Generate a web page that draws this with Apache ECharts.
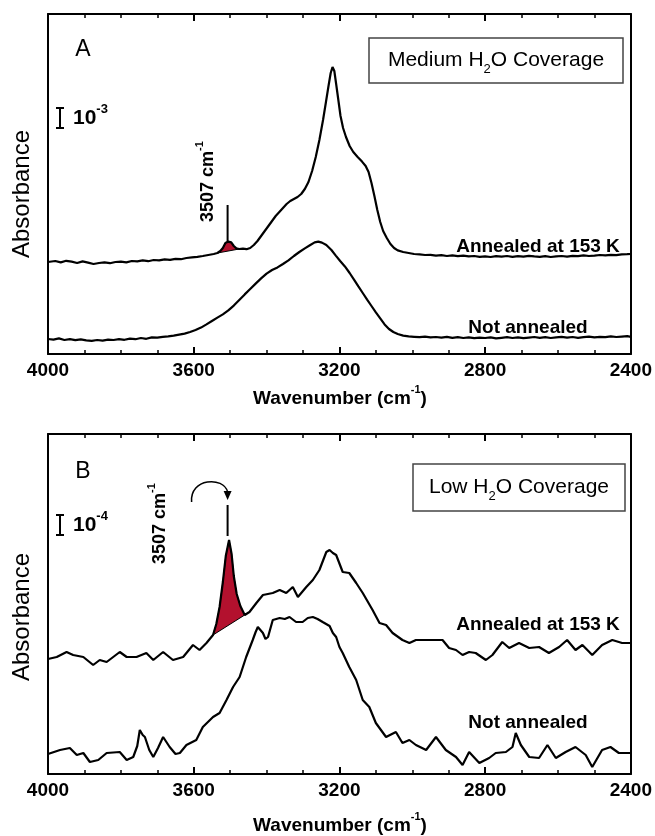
<!DOCTYPE html>
<html><head><meta charset="utf-8">
<script src="https://cdn.jsdelivr.net/npm/echarts@6/dist/echarts.min.js"></script>
<style>html,body{margin:0;padding:0;background:#fff}#c{width:655px;height:836px}</style>
</head><body><div id="c"></div>
<script>
// ---------- tick labels (cm-1) ----------
const xTickLabels = [4000, 3600, 3200, 2800, 2400];

// ---------- Panel A (medium coverage), absorbance in units of 1e-3, offset ----------
const aAnnWn = [4000,3980,3965,3950,3935,3920,3905,3890,3875,3860,3845,3830,3815,3800,3785,3770,3755,3740,3725,3710,3695,3680,3665,3650,3635,3620,3605,3590,3575,3560,3545,3535,3527,3520,3513,3505,3497,3490,3483,3475,3465,3455,3445,3435,3425,3415,3405,3395,3385,3375,3365,3355,3345,3335,3325,3315,3305,3295,3285,3275,3265,3255,3245,3237,3230,3224,3219,3214,3209,3203,3197,3190,3182,3172,3162,3150,3138,3128,3120,3112,3104,3096,3088,3080,3070,3060,3050,3040,3025,3010,2995,2980,2965,2950,2935,2920,2905,2890,2875,2860,2845,2830,2815,2800,2785,2770,2755,2740,2725,2710,2695,2680,2665,2650,2635,2620,2605,2590,2575,2560,2545,2530,2515,2500,2485,2470,2455,2440,2425,2410,2400];
const aAnnAbs = [4.60,4.65,4.58,4.66,4.62,4.55,4.63,4.57,4.50,4.55,4.58,4.54,4.60,4.62,4.58,4.65,4.63,4.68,4.64,4.70,4.68,4.73,4.71,4.76,4.74,4.80,4.83,4.86,4.90,4.95,5.00,5.05,5.15,5.30,5.55,5.62,5.58,5.40,5.28,5.25,5.27,5.24,5.30,5.45,5.65,5.90,6.15,6.40,6.65,6.90,7.10,7.30,7.50,7.65,7.75,7.85,8.00,8.25,8.60,9.15,9.85,10.70,11.70,12.60,13.40,14.05,14.35,14.15,13.50,12.70,11.90,11.30,10.85,10.40,10.10,9.85,9.62,9.40,9.10,8.55,7.90,7.20,6.60,6.15,5.80,5.50,5.30,5.18,5.10,5.05,5.00,4.98,4.95,4.96,4.92,4.94,4.90,4.93,4.89,4.92,4.88,4.90,4.86,4.88,4.85,4.89,4.87,4.90,4.86,4.89,4.87,4.91,4.88,4.86,4.89,4.85,4.88,4.90,4.87,4.91,4.89,4.93,4.90,4.92,4.95,4.93,4.96,4.94,4.98,4.99,5.00];

const aNotWn = [4000,3985,3970,3955,3940,3925,3910,3895,3880,3865,3850,3835,3820,3805,3790,3775,3760,3745,3730,3715,3700,3685,3670,3655,3640,3625,3610,3595,3580,3565,3550,3535,3520,3505,3490,3475,3460,3445,3430,3415,3400,3385,3370,3355,3340,3325,3310,3295,3280,3268,3258,3248,3236,3222,3210,3198,3185,3172,3160,3148,3136,3124,3112,3100,3088,3076,3064,3052,3040,3025,3010,2995,2980,2965,2950,2935,2920,2905,2890,2875,2860,2845,2830,2815,2800,2785,2770,2755,2740,2725,2710,2695,2680,2665,2650,2635,2620,2605,2590,2575,2560,2545,2530,2515,2500,2485,2470,2455,2440,2425,2410,2400];
const aNotAbs = [0.75,0.72,0.78,0.70,0.74,0.69,0.73,0.68,0.66,0.70,0.67,0.72,0.70,0.74,0.71,0.77,0.74,0.80,0.76,0.83,0.82,0.86,0.88,0.92,0.97,1.02,1.10,1.20,1.32,1.48,1.65,1.82,1.98,2.18,2.42,2.70,2.98,3.25,3.52,3.78,4.02,4.20,4.33,4.50,4.68,4.90,5.10,5.28,5.45,5.58,5.62,5.57,5.45,5.20,4.92,4.65,4.38,4.05,3.72,3.38,3.05,2.72,2.40,2.08,1.78,1.48,1.25,1.10,1.00,0.92,0.88,0.86,0.84,0.87,0.83,0.85,0.82,0.86,0.81,0.84,0.80,0.83,0.79,0.82,0.80,0.83,0.78,0.81,0.84,0.80,0.83,0.79,0.82,0.85,0.81,0.84,0.80,0.83,0.86,0.82,0.85,0.81,0.84,0.87,0.83,0.86,0.84,0.88,0.85,0.87,0.89,0.86];

// ---------- Panel B (low coverage), absorbance in units of 1e-4, offset ----------
const bAnnWn = [4000,3995,3976,3949,3931,3903,3876,3858,3839,3803,3784,3757,3730,3711,3684,3657,3629,3602,3584,3565,3547,3538,3529,3520,3512,3503,3496,3490,3482,3472,3460,3447,3428,3410,3383,3364,3346,3328,3314,3291,3273,3255,3236,3227,3218,3209,3191,3173,3154,3136,3109,3090,3072,3054,3027,3008,2990,2953,2917,2899,2880,2862,2844,2826,2798,2780,2753,2734,2707,2679,2652,2625,2597,2575,2552,2533,2506,2479,2451,2424,2400];
const bAnnAbs = [5.75,5.80,5.85,6.10,5.95,5.85,5.45,5.70,5.60,6.10,5.85,5.85,6.05,5.70,6.10,5.70,5.85,6.45,6.20,6.55,6.95,7.50,8.35,9.60,10.90,11.70,11.00,9.90,9.00,8.40,7.95,8.10,8.55,8.95,9.05,9.20,9.05,9.35,8.85,9.35,9.70,10.20,11.10,11.20,11.05,10.95,10.10,10.05,9.55,9.05,8.20,7.55,7.45,7.05,6.70,6.55,6.70,6.70,6.70,6.30,6.20,5.95,6.10,6.05,5.70,5.95,6.60,6.30,6.55,6.30,6.35,6.05,6.35,6.70,6.20,6.45,5.95,6.45,6.70,6.55,6.55];

const bNotWn = [4000,3995,3967,3940,3921,3903,3885,3862,3839,3803,3784,3766,3755,3748,3740,3734,3722,3711,3698,3684,3666,3650,3638,3620,3593,3575,3547,3529,3510,3492,3474,3456,3438,3430,3424,3417,3410,3403,3396,3383,3364,3350,3337,3319,3301,3287,3273,3260,3246,3227,3218,3209,3200,3191,3173,3154,3136,3118,3100,3072,3045,3027,3008,2990,2962,2935,2908,2880,2862,2844,2816,2789,2771,2743,2725,2716,2702,2679,2652,2629,2606,2579,2552,2524,2506,2479,2456,2433,2405,2400];
const bNotAbs = [1.00,1.05,1.20,1.30,0.95,1.05,0.60,0.70,1.05,1.10,0.70,0.85,1.40,2.20,1.95,1.85,1.20,0.85,1.30,1.85,1.35,1.00,1.05,1.45,1.70,2.35,2.85,3.05,3.70,4.35,4.85,5.85,6.70,7.10,7.35,7.20,7.05,6.75,6.85,7.70,7.80,7.75,7.85,7.60,7.60,7.80,7.85,7.75,7.60,7.40,7.05,6.85,6.35,6.05,5.35,4.70,3.70,3.35,2.55,1.85,2.10,1.55,1.70,1.45,1.20,1.85,1.20,0.85,0.45,1.10,0.55,0.80,1.05,1.10,1.35,2.05,1.45,0.85,0.80,1.45,0.80,1.10,1.35,0.95,0.35,1.20,1.35,1.05,1.05,1.05];

// shaded 3507 cm-1 band limits
const aBand = [3475, 3535];
const bBand = [3460, 3547];
// marker at 3507 cm-1: [wavenumber, from, to]
const aMarker = [3507, 5.62, 7.45];
const bMarker = [3507, 11.9, 13.45];
const bArrowTip = [3507, 13.7];
// scale bars: [wavenumber, from, to]  (one unit tall: 1e-3 in A, 1e-4 in B)
const aScale = [3967, 11.3, 12.3];
const bScale = [3967, 11.95, 12.95];

const FONT = "'Liberation Sans', Arial, Helvetica, sans-serif";
const RED = '#b3112e';

function zip(x, y) { return x.map((v, i) => [v, y[i]]); }

function xAxes(grid) {
  const common = {
    gridIndex: grid, type: 'value', min: 2400, max: 4000, interval: 400, inverse: true,
    axisLine: { show: true, onZero: false, lineStyle: { color: '#000', width: 2 } },
    axisTick: { show: true, inside: true, length: 7, lineStyle: { color: '#000', width: 2 } },
    minorTick: { show: true, splitNumber: 4, length: 4, lineStyle: { color: '#000', width: 1.5 } },
    splitLine: { show: false }, minorSplitLine: { show: false }
  };
  return [
    Object.assign({}, common, { position: 'bottom',
      axisLabel: { show: true, margin: 7, fontSize: 19, fontWeight: 'bold', color: '#000', fontFamily: FONT,
        formatter: v => (xTickLabels.indexOf(v) >= 0 ? String(v) : '') } }),
    Object.assign({}, common, { position: 'top', axisLabel: { show: false } })
  ];
}
function yAxes(grid) {
  const common = { gridIndex: grid, type: 'value', min: 0, max: 17,
    axisLine: { show: true, onZero: false, lineStyle: { color: '#000', width: 2 } },
    axisTick: { show: false }, axisLabel: { show: false }, splitLine: { show: false } };
  return [Object.assign({}, common, { position: 'left' }), Object.assign({}, common, { position: 'right' })];
}

function lineSeries(xi, yi, wn, ab) {
  return { type: 'line', xAxisIndex: xi, yAxisIndex: yi, data: zip(wn, ab), showSymbol: false, symbol: 'none',
    lineStyle: { color: '#000', width: 2.2 }, silent: true, z: 3 };
}
function fillSeries(xi, yi, wn, ab, band) {
  return { type: 'custom', xAxisIndex: xi, yAxisIndex: yi, data: [[band[0], 0]], silent: true, z: 2,
    renderItem: function (params, api) {
      const pts = [];
      for (let i = 0; i < wn.length; i++) if (wn[i] >= band[0] && wn[i] <= band[1]) pts.push(api.coord([wn[i], ab[i]]));
      return { type: 'polygon', shape: { points: pts }, style: { fill: RED, stroke: '#000', lineWidth: 1 } };
    } };
}
function markSeries(xi, yi, marker, scale, arrowTip) {
  return { type: 'custom', xAxisIndex: xi, yAxisIndex: yi, data: [[marker[0], marker[1]]], silent: true, z: 4,
    renderItem: function (params, api) {
      const m0 = api.coord([marker[0], marker[1]]), m1 = api.coord([marker[0], marker[2]]);
      const s0 = api.coord([scale[0], scale[1]]), s1 = api.coord([scale[0], scale[2]]);
      const st = { stroke: '#000', lineWidth: 2 };
      const ch = [
        { type: 'line', shape: { x1: m0[0], y1: m0[1], x2: m1[0], y2: m1[1] }, style: st },
        { type: 'line', shape: { x1: s0[0], y1: s0[1], x2: s1[0], y2: s1[1] }, style: st },
        { type: 'line', shape: { x1: s0[0] - 4, y1: s0[1], x2: s0[0] + 4, y2: s0[1] }, style: st },
        { type: 'line', shape: { x1: s1[0] - 4, y1: s1[1], x2: s1[0] + 4, y2: s1[1] }, style: st }
      ];
      if (arrowTip) {
        const t = api.coord(arrowTip);
        ch.push({ type: 'bezierCurve', shape: { x1: t[0] - 36, y1: t[1] + 2, cpx1: t[0] - 38, cpy1: t[1] - 22,
          cpx2: t[0] - 4, cpy2: t[1] - 24, x2: t[0], y2: t[1] - 8 }, style: { stroke: '#000', lineWidth: 1.5, fill: null } });
        ch.push({ type: 'polygon', shape: { points: [[t[0], t[1]], [t[0] - 4, t[1] - 9], [t[0] + 4, t[1] - 9]] },
          style: { fill: '#000' } });
      }
      return { type: 'group', children: ch };
    } };
}

function txt(x, y, text, size, weight, extra) {
  return Object.assign({ type: 'text', x: x, y: y, silent: true,
    style: { text: text, fontSize: size, fontWeight: weight || 'normal', fontFamily: FONT, fill: '#000',
      align: 'center', verticalAlign: 'middle' } }, extra || {});
}
function richTxt(x, y, text, rich, align, extra) {
  return Object.assign({ type: 'text', x: x, y: y, silent: true,
    style: { text: text, rich: rich, fontFamily: FONT, fill: '#000', align: align || 'center', verticalAlign: 'middle' } }, extra || {});
}
const supRichBold = {
  m: { fontSize: 19, fontWeight: 'bold', fontFamily: FONT, lineHeight: 29, verticalAlign: 'middle' },
  s: { fontSize: 11, fontWeight: 'bold', fontFamily: FONT, verticalAlign: 'top' }
};
const rotRichBold = {
  m: { fontSize: 18, fontWeight: 'bold', fontFamily: FONT, lineHeight: 28, verticalAlign: 'middle' },
  s: { fontSize: 11, fontWeight: 'bold', fontFamily: FONT, verticalAlign: 'top' }
};
const subRich = {
  a: { fontSize: 21, fontFamily: FONT, lineHeight: 32, verticalAlign: 'middle' },
  b: { fontSize: 13, fontFamily: FONT, verticalAlign: 'bottom' }
};
const scaleRich = {
  m: { fontSize: 21, fontWeight: 'bold', fontFamily: FONT, lineHeight: 30, verticalAlign: 'middle' },
  s: { fontSize: 13, fontWeight: 'bold', fontFamily: FONT, verticalAlign: 'top' }
};

const graphic = [
  txt(83, 50, 'A', 23),
  txt(83, 472, 'B', 23),
  txt(22, 194, 'Absorbance', 24, 'normal', { rotation: Math.PI / 2 }),
  txt(22, 617, 'Absorbance', 24, 'normal', { rotation: Math.PI / 2 }),
  richTxt(340, 399, '{m|Wavenumber (cm}{s|-1}{m|)}', supRichBold),
  richTxt(340, 826, '{m|Wavenumber (cm}{s|-1}{m|)}', supRichBold),
  { type: 'rect', shape: { x: 369, y: 38, width: 254, height: 45 }, style: { fill: 'none', stroke: '#444', lineWidth: 1.5 }, silent: true },
  richTxt(496, 60, '{a|Medium H}{b|2}{a|O Coverage}', subRich),
  { type: 'rect', shape: { x: 413, y: 464, width: 212, height: 47 }, style: { fill: 'none', stroke: '#444', lineWidth: 1.5 }, silent: true },
  richTxt(519, 487, '{a|Low H}{b|2}{a|O Coverage}', subRich),
  richTxt(73, 118, '{m|10}{s|-3}', scaleRich, 'left'),
  richTxt(73, 525, '{m|10}{s|-4}', scaleRich, 'left'),
  txt(538, 247, 'Annealed at 153 K', 19, 'bold'),
  txt(528, 328, 'Not annealed', 19, 'bold'),
  txt(538, 625, 'Annealed at 153 K', 19, 'bold'),
  txt(528, 723, 'Not annealed', 19, 'bold'),
  richTxt(208, 222, '{m|3507 cm}{s|-1}', rotRichBold, 'left', { rotation: Math.PI / 2 }),
  richTxt(160, 564, '{m|3507 cm}{s|-1}', rotRichBold, 'left', { rotation: Math.PI / 2 })
];

const chart = echarts.init(document.getElementById('c'), null, { renderer: 'canvas' });
chart.setOption({
  animation: false,
  backgroundColor: '#fff',
  grid: [
    { left: 48, top: 14, width: 584, height: 340 },
    { left: 48, top: 434, width: 584, height: 340 }
  ],
  xAxis: xAxes(0).concat(xAxes(1)),
  yAxis: yAxes(0).concat(yAxes(1)),
  series: [
    fillSeries(0, 0, aAnnWn, aAnnAbs, aBand),
    lineSeries(0, 0, aAnnWn, aAnnAbs),
    lineSeries(0, 0, aNotWn, aNotAbs),
    markSeries(0, 0, aMarker, aScale, null),
    fillSeries(2, 2, bAnnWn, bAnnAbs, bBand),
    lineSeries(2, 2, bAnnWn, bAnnAbs),
    lineSeries(2, 2, bNotWn, bNotAbs),
    markSeries(2, 2, bMarker, bScale, bArrowTip)
  ],
  graphic: graphic
});
</script>
</body></html>
